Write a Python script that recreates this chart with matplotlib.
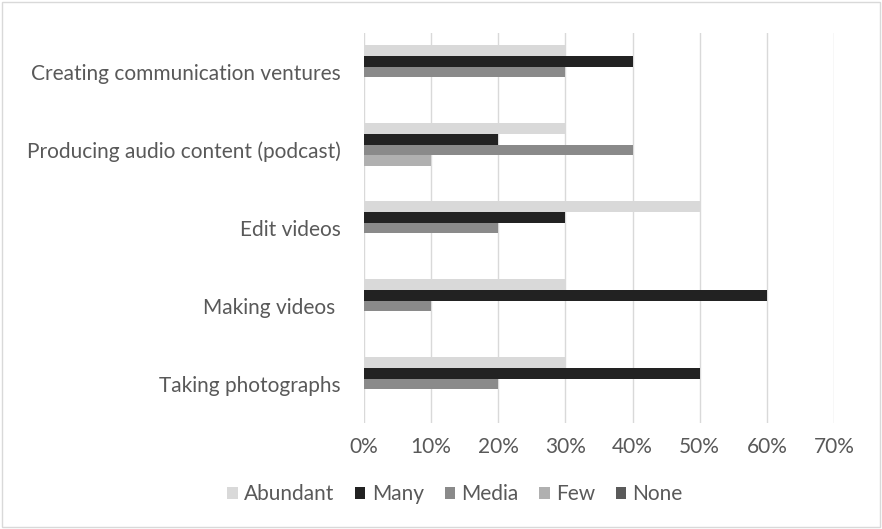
import matplotlib
matplotlib.use("Agg")
import matplotlib.pyplot as plt
from matplotlib.patches import Rectangle
import numpy as np

categories = ["Taking photographs", "Making videos ", "Edit videos",
              "Producing audio content (podcast)", "Creating communication ventures"]
series_names = ["Abundant", "Many", "Media", "Few", "None"]
abundant = [30, 30, 50, 30, 30]
many = [50, 60, 30, 20, 40]
media = [20, 10, 20, 40, 30]
few = [0, 0, 0, 10, 0]
none = [0, 0, 0, 0, 0]
values = [abundant, many, media, few, none]
colors = ["#d9d9d9", "#222222", "#8a8a8a", "#b0b0b0", "#5a5a5a"]
xticks = [0, 10, 20, 30, 40, 50, 60, 70]

plt.rcParams['font.family'] = ['Lato', 'DejaVu Sans']
fig = plt.figure(figsize=(8.82, 5.29), dpi=100)
ax = fig.add_axes([364/882, 1-423/529, (834-364)/882, (423-33)/529])

n = len(series_names)
h = 0.141
y = np.arange(len(categories))
for j, (name, vals, c) in enumerate(zip(series_names, values, colors)):
    offs = (n - 1) / 2 * h - j * h
    ax.barh(y + offs, vals, height=h, color=c, label=name, zorder=3)

ax.set_xlim(0, 70)
ax.set_ylim(-0.5, len(categories) - 0.5)
ax.set_xticks(xticks)
ax.set_xticklabels([f"{t}%" for t in xticks])
ax.set_yticks(y)
ax.set_yticklabels(categories)
ax.tick_params(axis='both', length=0, labelsize=15, colors="#595959")
ax.tick_params(axis='x', pad=10)
ax.tick_params(axis='y', pad=16.5)
ax.grid(axis='x', color="#d9d9d9", linewidth=1, zorder=0)
for s in ax.spines.values():
    s.set_visible(False)

leg = fig.legend(loc='center', bbox_to_anchor=(455/882, 1-494/529), ncol=5, frameon=False,
                 fontsize=15, handlelength=0.5, handleheight=0.5, handletextpad=0.3,
                 columnspacing=1.0, labelcolor="#595959")

fig.patches.append(Rectangle((2/882, 2/529), 1-4/882, 1-4/529, transform=fig.transFigure,
                             fill=False, edgecolor="#d9d9d9", linewidth=1))
fig.savefig("out.png", dpi=100)
